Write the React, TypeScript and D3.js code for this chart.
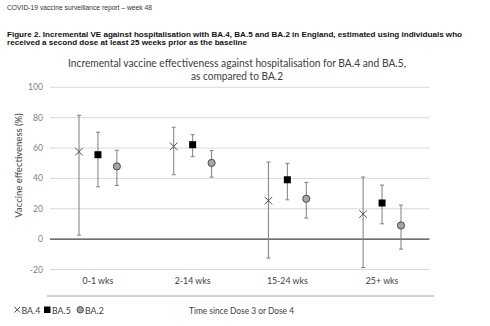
import React from "react";
import * as d3 from "d3";

const categories = ["0-1 wks", "2-14 wks", "15-24 wks", "25+ wks"];
const seriesNames = ["BA.4", "BA.5", "BA.2"];
const ba4 = [57.6, 61.1, 25.3, 16.5];
const ba4Lo = [2.6, 42.4, -12.5, -18.7];
const ba4Hi = [81.6, 73.7, 50.8, 40.9];
const ba5 = [55.6, 62.2, 39.1, 23.8];
const ba5Lo = [34.5, 54.3, 25.9, 10.1];
const ba5Hi = [70.4, 68.8, 49.9, 35.6];
const ba2 = [47.9, 50.2, 26.6, 9.0];
const ba2Lo = [35.4, 40.9, 13.9, -6.6];
const ba2Hi = [58.5, 58.3, 37.4, 22.4];
const yTicks = [-20, 0, 20, 40, 60, 80, 100];

const W = 490;
const H = 326;
const FONT = "Lato, 'Open Sans', sans-serif";

export default function App() {
  const x = d3.scaleBand<string>().domain(categories).range([50.6, 429.4]).padding(0);
  const y = d3.scaleLinear().domain([-20, 100]).range([269.5, 87.3]);
  const bw = x.bandwidth();
  const offsets = [-0.2, 0, 0.2];
  const series = [
    { name: seriesNames[0], v: ba4, lo: ba4Lo, hi: ba4Hi },
    { name: seriesNames[1], v: ba5, lo: ba5Lo, hi: ba5Hi },
    { name: seriesNames[2], v: ba2, lo: ba2Lo, hi: ba2Hi },
  ];

  const marker = (si: number, cx: number, cy: number, key: string) => {
    if (si === 0) {
      const s = 3.8;
      return (
        <g key={key} stroke="#404040" strokeWidth={0.9}>
          <line x1={cx - s} y1={cy - s} x2={cx + s} y2={cy + s} />
          <line x1={cx - s} y1={cy + s} x2={cx + s} y2={cy - s} />
        </g>
      );
    }
    if (si === 1) {
      const s = 3.5;
      return <rect key={key} x={cx - s} y={cy - s} width={2 * s} height={2 * s} fill="#000" />;
    }
    return <circle key={key} cx={cx} cy={cy} r={3.6} fill="#a6a6a6" stroke="#404040" strokeWidth={0.9} />;
  };

  return (
    <div style={{ position: "absolute", left: 0, top: 0 }}>
      <svg width={W} height={H} style={{ display: "block", background: "#fff" }}>
        <text x={7} y={9.5} fontFamily="'Liberation Sans', Arial, sans-serif" fontSize={6.6} fill="#333" textLength={145} lengthAdjust="spacingAndGlyphs">
          COVID-19 vaccine surveillance report – week 48
        </text>
        <text x={7} y={37.3} fontFamily="'Liberation Sans', Arial, sans-serif" fontSize={6.9} fontWeight="bold" fill="#111" textLength={455} lengthAdjust="spacingAndGlyphs">
          Figure 2. Incremental VE against hospitalisation with BA.4, BA.5 and BA.2 in England, estimated using individuals who
        </text>
        <text x={7} y={45.3} fontFamily="'Liberation Sans', Arial, sans-serif" fontSize={6.9} fontWeight="bold" fill="#111" textLength={240} lengthAdjust="spacingAndGlyphs">
          received a second dose at least 25 weeks prior as the baseline
        </text>

        <text x={68} y={66.5} fontFamily={FONT} fontSize={10.8} fill="#404040" textLength={338} lengthAdjust="spacingAndGlyphs">
          Incremental vaccine effectiveness against hospitalisation for BA.4 and BA.5,
        </text>
        <text x={191} y={80} fontFamily={FONT} fontSize={10.8} fill="#404040" textLength={92} lengthAdjust="spacingAndGlyphs">
          as compared to BA.2
        </text>

        {yTicks.map((t) => (
          <g key={t}>
            <line x1={50} x2={429.5} y1={y(t)} y2={y(t)} stroke={t === 0 ? "#404040" : "#d9d9d9"} strokeWidth={t === 0 ? 1.1 : 1} />
            <text x={43} y={y(t)} dy="0.35em" textAnchor="end" fontFamily={FONT} fontSize={8.6} fill="#7f7f7f">
              {t}
            </text>
          </g>
        ))}

        <text transform={`translate(21.5,${165.5}) rotate(-90)`} textAnchor="middle" fontFamily={FONT} fontSize={9.5} fill="#404040">
          Vaccine effectiveness (%)
        </text>

        {series.map((s, si) =>
          categories.map((c, ci) => {
            const cx = (x(c) as number) + bw / 2 + offsets[si] * bw;
            return (
              <g key={`${si}-${ci}`}>
                <line x1={cx} x2={cx} y1={y(s.lo[ci])} y2={y(s.hi[ci])} stroke="#7f7f7f" strokeWidth={1} />
                <line x1={cx - 2} x2={cx + 2} y1={y(s.lo[ci])} y2={y(s.lo[ci])} stroke="#7f7f7f" strokeWidth={1} />
                <line x1={cx - 2} x2={cx + 2} y1={y(s.hi[ci])} y2={y(s.hi[ci])} stroke="#7f7f7f" strokeWidth={1} />
                {marker(si, cx, y(s.v[ci]), `m-${si}-${ci}`)}
              </g>
            );
          })
        )}

        {categories.map((c) => (
          <text key={c} x={(x(c) as number) + bw / 2} y={283.5} textAnchor="middle" fontFamily={FONT} fontSize={8.8} fill="#404040">
            {c}
          </text>
        ))}

        <line x1={47} x2={434} y1={296} y2={296} stroke="#a6a6a6" strokeWidth={1} />

        <text x={189} y={313.5} fontFamily={FONT} fontSize={8.8} fill="#404040" textLength={105} lengthAdjust="spacingAndGlyphs">
          Time since Dose 3 or Dose 4
        </text>

        <g fontFamily={FONT} fontSize={8.8} fill="#404040">
          <g stroke="#404040" strokeWidth={1}>
            <line x1={14.5} y1={307} x2={20} y2={312.5} />
            <line x1={14.5} y1={312.5} x2={20} y2={307} />
          </g>
          <text x={21.5} y={313.5}>{seriesNames[0]}</text>
          <rect x={44} y={306.5} width={6.5} height={6.5} fill="#000" />
          <text x={52} y={313.5}>{seriesNames[1]}</text>
          <circle cx={80.2} cy={309.8} r={3.2} fill="#a6a6a6" stroke="#404040" strokeWidth={0.9} />
          <text x={85} y={313.5}>{seriesNames[2]}</text>
        </g>
      </svg>
    </div>
  );
}
